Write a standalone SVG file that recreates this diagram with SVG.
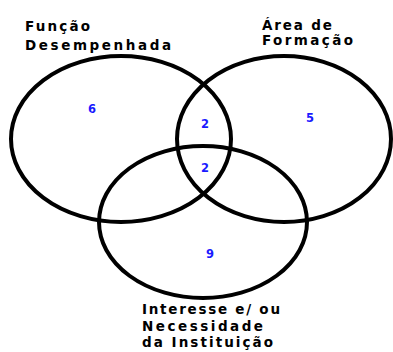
<svg xmlns="http://www.w3.org/2000/svg" width="393" height="352" viewBox="0 0 393 352">
<style>
.set{fill:none;stroke:#000;stroke-width:4}
.lbl{font-family:"DejaVu Sans","Liberation Sans",Arial,sans-serif;font-weight:bold;font-size:13.5px;fill:#000}
.num{font-family:"DejaVu Sans","Liberation Sans",Arial,sans-serif;font-weight:bold;font-size:11.5px;fill:#1a1aff;text-anchor:middle}
</style>
<rect width="393" height="352" fill="#fff"/>
<g id="connectors"></g>
<g id="set-funcao">
<ellipse class="set" cx="121" cy="139" rx="110" ry="83"/>
<text class="lbl" x="25" y="31" textLength="65" lengthAdjust="spacing">Função</text>
<text class="lbl" x="25" y="50" textLength="146" lengthAdjust="spacing">Desempenhada</text>
</g>
<g id="set-area">
<ellipse class="set" cx="284" cy="139" rx="107" ry="83"/>
<text class="lbl" x="262" y="30" textLength="70" lengthAdjust="spacing">Área de</text>
<text class="lbl" x="262" y="45" textLength="91" lengthAdjust="spacing">Formação</text>
</g>
<g id="set-interesse">
<ellipse class="set" cx="203" cy="222" rx="104" ry="76"/>
<text class="lbl" x="142" y="314" textLength="138" lengthAdjust="spacing">Interesse e/ ou</text>
<text class="lbl" x="142" y="331" textLength="121" lengthAdjust="spacing">Necessidade</text>
<text class="lbl" x="142" y="347" textLength="131" lengthAdjust="spacing">da Instituição</text>
</g>
<g id="counts">
<text class="num" x="92" y="113">6</text>
<text class="num" x="310" y="122">5</text>
<text class="num" x="205" y="128">2</text>
<text class="num" x="205" y="172">2</text>
<text class="num" x="210" y="258">9</text>
</g>
</svg>
